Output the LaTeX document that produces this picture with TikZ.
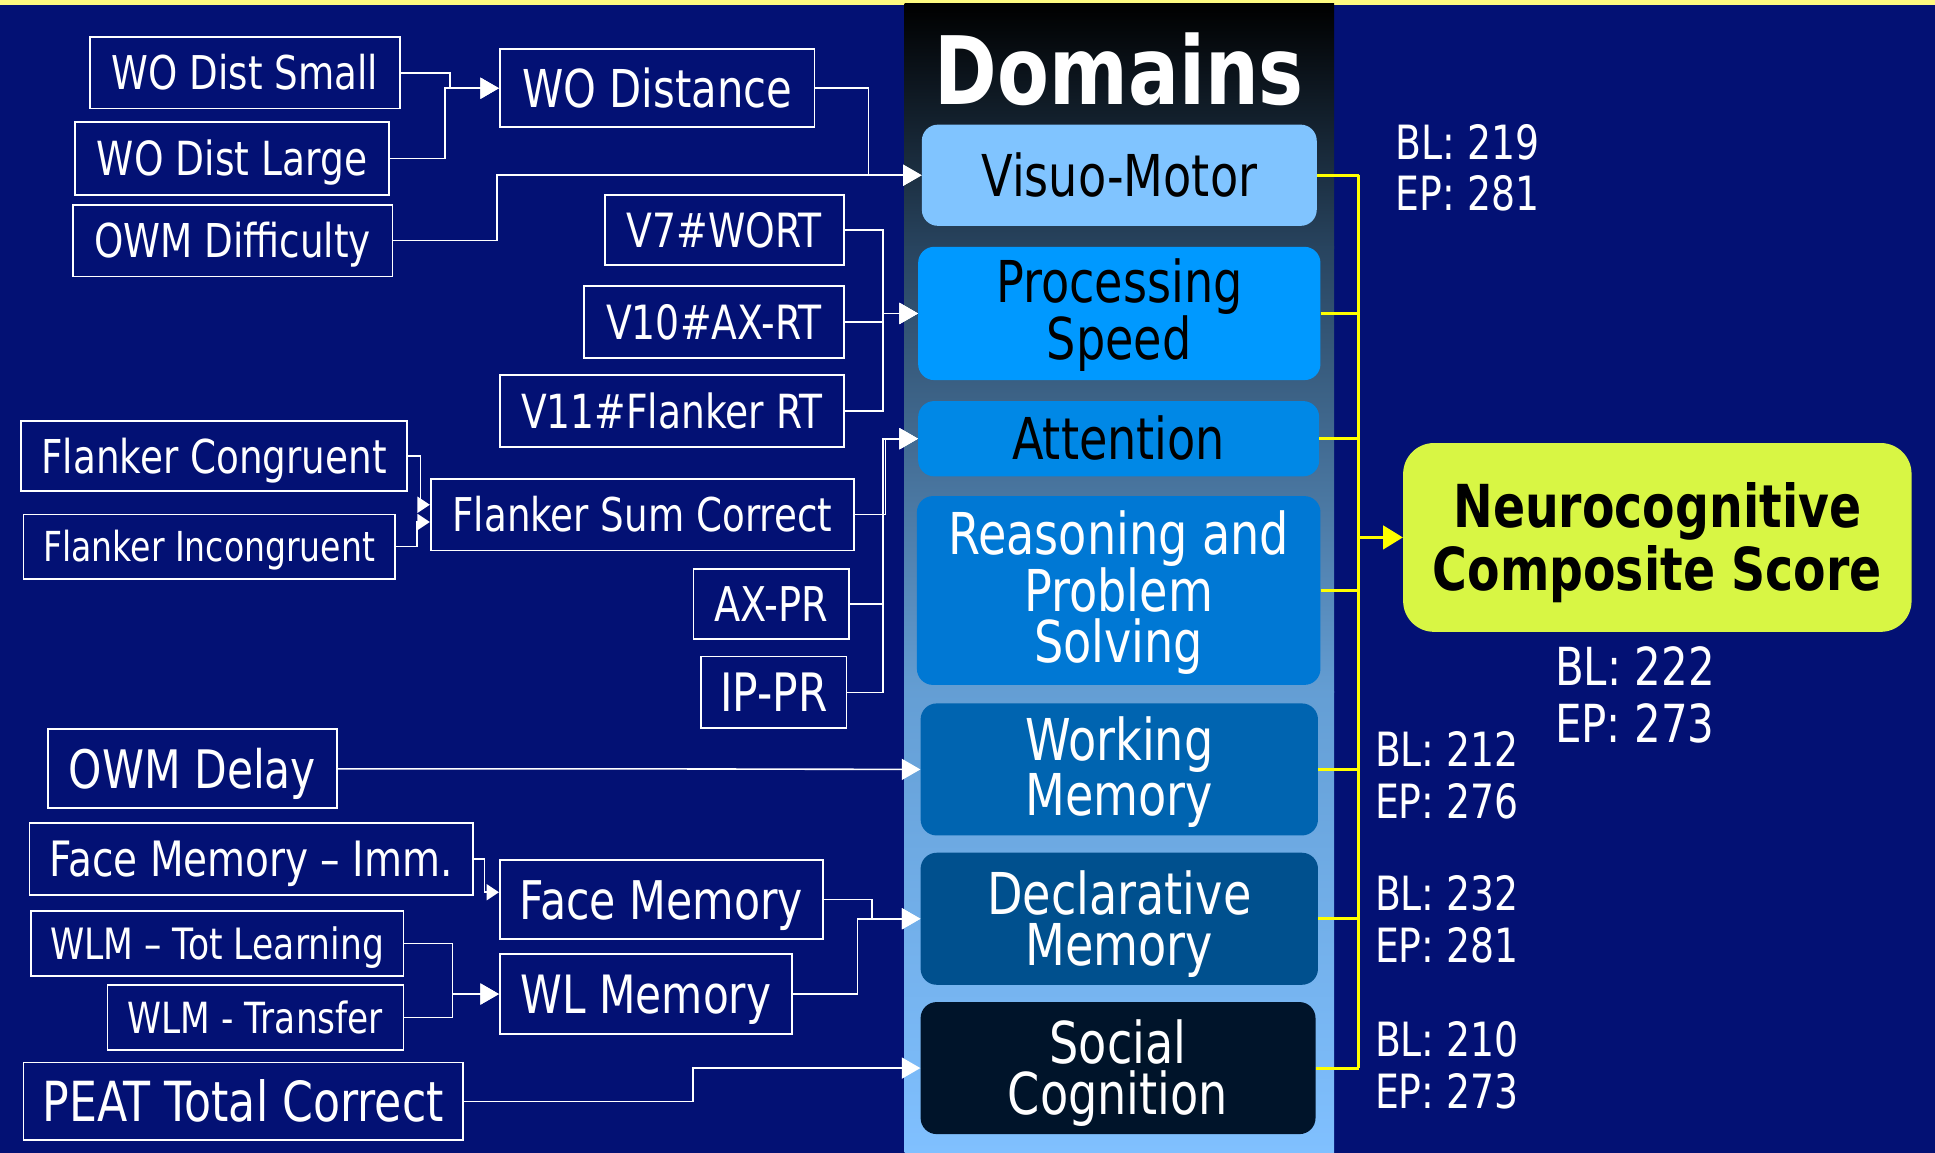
\documentclass[tikz,border=0pt]{standalone}
\usepackage{fontspec}
\setmainfont{DejaVu Sans}[FakeStretch=0.8]
\usetikzlibrary{arrows.meta,calc}
\definecolor{navy}{RGB}{3,17,116}
\definecolor{stripe}{RGB}{255,250,128}
\definecolor{colA}{RGB}{40,68,95}
\definecolor{colB}{RGB}{100,158,212}
\definecolor{colC}{RGB}{128,192,255}
\definecolor{vmC}{RGB}{128,196,255}
\definecolor{psC}{RGB}{0,153,255}
\definecolor{attC}{RGB}{0,136,230}
\definecolor{rpsC}{RGB}{0,120,212}
\definecolor{wmC}{RGB}{0,100,176}
\definecolor{dmC}{RGB}{0,80,142}
\definecolor{scC}{RGB}{0,20,42}
\definecolor{neuroC}{RGB}{216,246,68}
\definecolor{yl}{RGB}{255,255,0}
\newcommand{\fsz}[2]{\fontsize{#1pt}{#2pt}\selectfont}
\tikzset{
  lbox/.style={draw=white, line width=1.4pt, fill=navy, text=white, inner sep=0pt,
    font=\fsz{#1}{#1}, text height={0.73*#1pt}, text depth=0pt},
  dbox/.style={rounded corners=13pt, inner sep=0pt, align=center,
    font=\fsz{46.75}{41}, text depth=0pt},
  conn/.style={draw=white, line width=1.3pt, -{Triangle[length=15pt,width=17pt]}},
  connsm/.style={draw=white, line width=1.3pt, -{Triangle[length=10pt,width=13pt]}},
  ylink/.style={draw=yl, line width=2.4pt},
  yarr/.style={draw=yl, line width=2.4pt, -{Triangle[length=16pt,width=19pt]}},
  score/.style={text=white, inner sep=0pt, align=left, anchor=west, text depth=0pt},
}
\begin{document}
\begin{tikzpicture}[x=1pt,y=-1pt]
\useasboundingbox (0,0) rectangle (1568,934);
\fill[navy] (0,0) rectangle (1568,934);
\fill[stripe] (0,0) rectangle (1568,4);
% domain column
\shade[top color=black, bottom color=colA] (733,3) rectangle (1081,201);
\shade[top color=colA, bottom color=colB] (733,200) rectangle (1081,561);
\shade[top color=colB, bottom color=colC] (733,560) rectangle (1081,934);
\node[text=white, inner sep=0pt, font=\bfseries\fsz{76.5}{76.5}, text height=55.8pt, text depth=0pt] (title) at (907,57) {Domains};

% domain boxes
\node[dbox, fill=vmC, text=black, minimum width=320pt, minimum height=82pt, text height=34pt] (vm) at (907,142) {Visuo-Motor};
\node[dbox, fill=psC, text=black, minimum width=326pt, minimum height=108pt, text height=75pt] (ps) at (907,254) {Processing\\Speed};
\node[dbox, fill=attC, text=black, minimum width=325pt, minimum height=61pt, text height=34pt] (att) at (906.5,355.5) {Attention};
\node[dbox, fill=rpsC, text=white, minimum width=327pt, minimum height=153pt, text height=116pt] (rps) at (906.5,478.5) {Reasoning and\\Problem\\Solving};
\node[dbox, fill=wmC, text=white, minimum width=322pt, minimum height=107pt, text height=75pt] (wm) at (907,623.5) {Working\\Memory};
\node[dbox, fill=dmC, text=white, minimum width=322pt, minimum height=107pt, text height=75pt] (dm) at (907,744.5) {Declarative\\Memory};
\node[dbox, fill=scC, text=white, minimum width=320pt, minimum height=107pt, text height=75pt] (sc) at (906,865.5) {Social\\Cognition};

% composite
\node[rounded corners=25pt, fill=neuroC, text=black, inner sep=0pt, align=center,
  font=\bfseries\fsz{48}{51}, text height=86pt, text depth=0pt,
  minimum width=412pt, minimum height=153pt] (ncs) at (1343,435.5) {Neurocognitive\\Composite Score};

% scores
\node[score, text height=69.9pt, font=\fsz{38.25}{42}] (s1) at (1131,136) {BL: 219\\EP: 281};
\node[score, text height=77pt, font=\fsz{42.5}{46}] (s0) at (1260,563) {BL: 222\\EP: 273};
\node[score, text height=69.9pt, font=\fsz{38.25}{42}] (s2) at (1114,628) {BL: 212\\EP: 276};
\node[score, text height=69.9pt, font=\fsz{38.25}{42}] (s3) at (1114,745) {BL: 232\\EP: 281};
\node[score, text height=69.9pt, font=\fsz{38.25}{42}] (s4) at (1114,863.5) {BL: 210\\EP: 273};

% left measure boxes
\node[lbox=37.7, minimum width=251pt, minimum height=58pt] (wods) at (198.5,59) {WO Dist Small};
\node[lbox=38.1, minimum width=254pt, minimum height=59pt] (wodl) at (188,128.5) {WO Dist Large};
\node[lbox=37.8, minimum width=259pt, minimum height=58pt] (owmd) at (188.5,195) {OWM Difficulty};
\node[lbox=42.3, minimum width=255pt, minimum height=63pt] (wodist) at (532.5,71.5) {WO Distance};
\node[lbox=38.25, minimum width=194pt, minimum height=57pt] (v7) at (587,186.5) {V7\#WORT};
\node[lbox=38.25, minimum width=211pt, minimum height=58pt] (v10) at (578.5,261) {V10\#AX-RT};
\node[lbox=38.1, minimum width=279pt, minimum height=58pt] (v11) at (544.5,333) {V11\#Flanker RT};
\node[lbox=37.8, minimum width=313pt, minimum height=57pt] (fc) at (173.5,369.5) {Flanker Congruent};
\node[lbox=33.5, minimum width=301pt, minimum height=52pt] (fi) at (169.5,443) {Flanker Incongruent};
\node[lbox=37.7, minimum width=343pt, minimum height=58pt] (fsc) at (520.5,417) {Flanker Sum Correct};
\node[lbox=38.8, minimum width=126pt, minimum height=57pt] (axpr) at (625,489.5) {AX-PR};
\node[lbox=42.9, minimum width=118pt, minimum height=58pt] (ippr) at (627,561) {IP-PR};
\node[lbox=43, minimum width=234pt, minimum height=64pt] (owmdl) at (156,623) {OWM Delay};
\node[lbox=39.5, minimum width=359pt, minimum height=58pt] (fmi) at (203.5,696) {Face Memory – Imm.};
\node[lbox=43.2, minimum width=262pt, minimum height=64pt] (fm) at (536,729) {Face Memory};
\node[lbox=35, minimum width=302pt, minimum height=53pt] (wlmt) at (176,764.5) {WLM – Tot Learning};
\node[lbox=34.8, minimum width=240pt, minimum height=53pt] (wlmtr) at (207,824.5) {WLM - Transfer};
\node[lbox=42.8, minimum width=237pt, minimum height=65pt] (wlm) at (523.5,805.5) {WL Memory};
\node[lbox=44.8, minimum width=356pt, minimum height=63pt] (peat) at (197,892.5) {PEAT Total Correct};

% white connectors
\draw[conn] (wods.east) -- ++(40,0) |- (wodist.west);
\draw[conn] (wodl.east) -- ++(45,0) |- (wodist.west);
\draw[conn] (wodist.east) -- ++(43,0) |- (vm.west);
\draw[conn] (owmd.east) -- ++(84,0) |- (vm.west);
\draw[conn] (v7.east) -- ++(31,0) |- (ps.west);
\draw[conn] (v10.east) -- ++(31,0) |- (ps.west);
\draw[conn] (v11.east) -- ++(31,0) |- (ps.west);
\draw[connsm] (fc.east) -- ++(10,0) |- ([yshift=8pt]fsc.west);
\draw[connsm] (fi.east) -- ++(17,0) |- ([yshift=-6pt]fsc.west);
\draw[conn] (fsc.east) -- ++(25,0) |- (att.west);
\draw[conn] (axpr.east) -- ++(27,0) |- (att.west);
\draw[conn] (ippr.east) -- ++(29,0) |- (att.west);
\draw[conn] (owmdl.east) -- ++(237,0) -- ([yshift=-0.5pt]owmdl.east -| wm.west);
\draw[connsm] (fmi.east) -- ++(9,0) |- ([yshift=6pt]fm.west);
\draw[conn] (wlmt.east) -- ++(39,0) |- (wlm.west);
\draw[conn] (wlmtr.east) -- ++(39,0) |- (wlm.west);
\draw[conn] (fm.east) -- ++(39,0) |- (dm.west);
\draw[conn] (wlm.east) -- ++(52,0) |- (dm.west);
\draw[conn] (peat.east) -- ++(186,0) |- (sc.west);

% yellow connectors
\coordinate (bx) at (1101,0);
\foreach \n in {vm,ps,att,rps,wm,dm,sc}{
  \draw[ylink] (\n.east) -- (\n.east -| bx);
}
\draw[ylink] (vm.east -| bx) -- (sc.east -| bx);
\draw[yarr] (ncs.west -| bx) -- (ncs.west);
\end{tikzpicture}
\end{document}
